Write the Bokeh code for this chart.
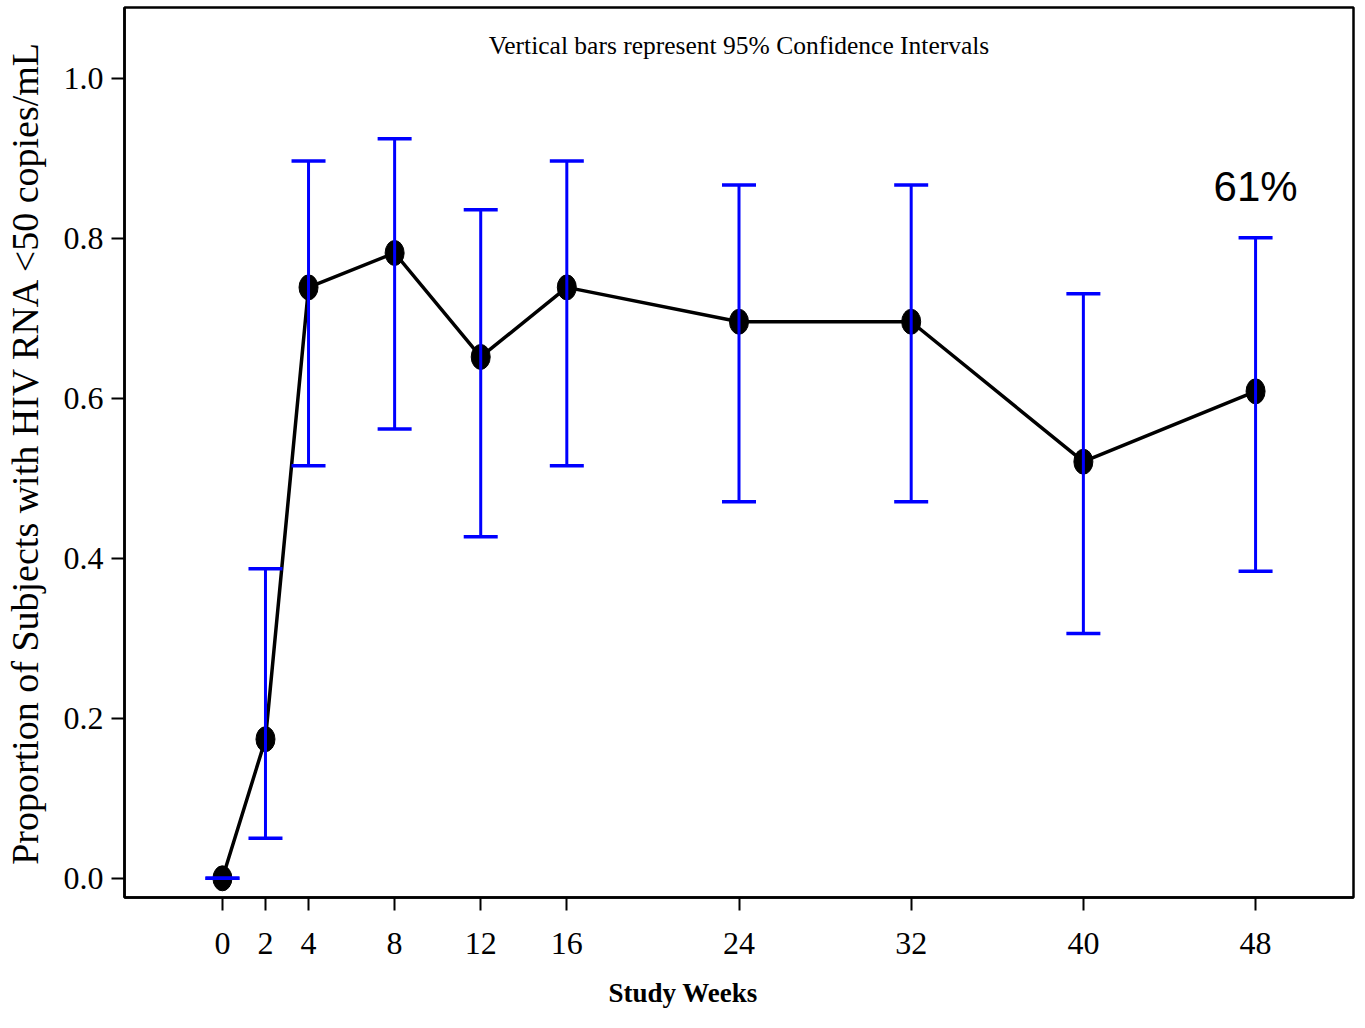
from bokeh.plotting import figure
from bokeh.models import Range1d, FixedTicker, Whisker, ColumnDataSource, Label, TeeHead, Title
from bokeh.embed import file_html
from bokeh.resources import INLINE

weeks = [0, 2, 4, 8, 12, 16, 24, 32, 40, 48]
proportion = [0.0, 0.174, 0.739, 0.782, 0.652, 0.739, 0.696, 0.696, 0.521, 0.609]
ci_lower = [0.0, 0.050, 0.516, 0.562, 0.427, 0.516, 0.471, 0.471, 0.306, 0.384]
ci_upper = [0.0, 0.387, 0.897, 0.925, 0.836, 0.897, 0.867, 0.867, 0.731, 0.801]
y_ticks = [0.0, 0.2, 0.4, 0.6, 0.8, 1.0]
y_tick_labels = ["0.0", "0.2", "0.4", "0.6", "0.8", "1.0"]
x_ticks = weeks

SERIF = "Liberation Serif"

src = ColumnDataSource(dict(x=weeks, y=proportion, lower=ci_lower, upper=ci_upper))

p = figure(width=1357, height=1028, output_backend="svg", toolbar_location=None,
           x_range=Range1d(-4.55, 52.55), y_range=Range1d(-0.024, 1.089),
           min_border_left=123, min_border_right=4, min_border_top=7, min_border_bottom=131)

p.grid.visible = False
p.outline_line_color = "black"
p.outline_line_width = 2.5
p.background_fill_color = "white"
p.border_fill_color = "white"

for ax in (p.xaxis[0], p.yaxis[0]):
    ax.axis_line_color = "black"
    ax.axis_line_width = 2.5
    ax.major_tick_line_color = "black"
    ax.major_tick_line_width = 2
    ax.major_tick_out = 13
    ax.major_tick_in = 0
    ax.minor_tick_line_color = None
    ax.major_label_text_font = SERIF
    ax.major_label_text_font_size = "32px"
    ax.major_label_text_color = "black"
    ax.axis_label_text_font = SERIF
    ax.axis_label_text_color = "black"

p.xaxis.ticker = FixedTicker(ticks=x_ticks)
p.xaxis.major_label_standoff = 22

p.yaxis.ticker = FixedTicker(ticks=y_ticks)
p.yaxis.major_label_overrides = {t: l for t, l in zip(y_ticks, y_tick_labels)}
p.yaxis.major_label_standoff = 8
p.yaxis.axis_label = "Proportion of Subjects with HIV RNA <50 copies/mL"
p.yaxis.axis_label_text_font_size = "38px"
p.yaxis.axis_label_text_font_style = "normal"
p.yaxis.axis_label_standoff = 15

xlabel = Title(text="Study Weeks", align="left", offset=484, text_font=SERIF,
               text_font_size="27px", text_font_style="bold", text_color="black",
               standoff=38, text_line_height=0.6)
p.add_layout(xlabel, "below")

p.line("x", "y", source=src, line_color="black", line_width=3.5)
p.ellipse("x", "y", source=src, width=19, height=25, width_units="screen",
          height_units="screen", fill_color="black", line_color="black")

w = Whisker(source=src, base="x", upper="upper", lower="lower",
            line_color="#0000FF", line_width=3, level="annotation",
            upper_head=TeeHead(size=34, line_color="#0000FF", line_width=3.5),
            lower_head=TeeHead(size=34, line_color="#0000FF", line_width=3.5))
p.add_layout(w)

p.add_layout(Label(x=24, y=1.041, text="Vertical bars represent 95% Confidence Intervals",
                   text_font=SERIF, text_font_size="25.5px", text_align="center",
                   text_baseline="middle", text_color="black"))

p.add_layout(Label(x=weeks[-1], y=0.865, text=f"{round(proportion[-1]*100)}%",
                   text_font="Liberation Sans", text_font_size="42px", text_align="center",
                   text_baseline="middle", text_color="black"))

open("out.html", "w").write(file_html(p, INLINE))
